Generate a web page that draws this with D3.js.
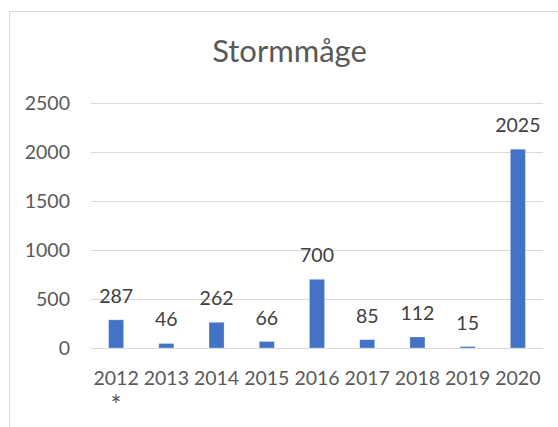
<!DOCTYPE html>
<html>
<head>
<meta charset="utf-8">
<script src="https://cdn.jsdelivr.net/npm/d3@7"></script>
<style>
  html, body { margin: 0; padding: 0; background: #fff; }
  svg { display: block; }
  text { font-family: Lato, "Open Sans", sans-serif; }
</style>
</head>
<body>
<svg id="chart" width="558" height="427"></svg>
<script>
// Stormmåge counts per year
const categories = ["2012 *", "2013", "2014", "2015", "2016", "2017", "2018", "2019", "2020"];
const values = [287, 46, 262, 66, 700, 85, 112, 15, 2025];
const yTicks = [0, 500, 1000, 1500, 2000, 2500];
const title = "Stormmåge";

const svg = d3.select("#chart");

// chart frame
svg.append("path")
  .attr("d", "M9.5,427 L9.5,11.5 L558,11.5")
  .attr("fill", "none")
  .attr("stroke", "#d9d9d9")
  .attr("stroke-width", 1);

const plot = { left: 91, right: 543, top: 102.6, bottom: 348 };

const x = d3.scaleBand()
  .domain(categories)
  .range([plot.left, plot.right])
  .paddingInner(0.7)
  .paddingOuter(0.35);

const y = d3.scaleLinear()
  .domain([0, 2500])
  .range([plot.bottom, plot.top]);

// title
svg.append("text")
  .attr("x", 289.5)
  .attr("y", 62)
  .attr("text-anchor", "middle")
  .attr("fill", "#595959")
  .attr("font-size", 31)
  .text(title);

// gridlines
svg.append("g")
  .selectAll("line")
  .data(yTicks)
  .join("line")
  .attr("x1", plot.left)
  .attr("x2", plot.right)
  .attr("y1", d => Math.round(y(d)) + 0.5)
  .attr("y2", d => Math.round(y(d)) + 0.5)
  .attr("stroke", "#d9d9d9")
  .attr("stroke-width", 1);

// y axis labels
svg.append("g")
  .selectAll("text")
  .data(yTicks)
  .join("text")
  .attr("x", 70)
  .attr("y", d => y(d) + 7)
  .attr("text-anchor", "end")
  .attr("fill", "#595959")
  .attr("font-size", 19.5)
  .text(d => d);

// bars
svg.append("g")
  .selectAll("rect")
  .data(values)
  .join("rect")
  .attr("x", (d, i) => x(categories[i]))
  .attr("width", x.bandwidth())
  .attr("y", d => y(d))
  .attr("height", d => y(0) - y(d))
  .attr("fill", "#4472c4")
  .attr("stroke", "#ffffff")
  .attr("stroke-opacity", 0.35)
  .attr("stroke-width", 0.8);

// value labels
svg.append("g")
  .selectAll("text")
  .data(values)
  .join("text")
  .attr("x", (d, i) => x(categories[i]) + x.bandwidth() / 2)
  .attr("y", d => y(d) - 17)
  .attr("text-anchor", "middle")
  .attr("fill", "#404040")
  .attr("font-size", 19.5)
  .text(d => d);

// category labels (wrapped on spaces)
const xl = svg.append("g")
  .selectAll("text")
  .data(categories)
  .join("text")
  .attr("x", d => x(d) + x.bandwidth() / 2)
  .attr("y", 385)
  .attr("text-anchor", "middle")
  .attr("fill", "#595959")
  .attr("font-size", 19.5);

xl.each(function (d) {
  const t = d3.select(this);
  const cx = x(d) + x.bandwidth() / 2;
  d.split(" ").forEach((part, k) => {
    const ts = t.append("tspan")
      .attr("x", cx)
      .attr("dy", k === 0 ? 0 : 30)
      .text(part);
    if (part === "*") ts.attr("font-size", 26);
  });
});
</script>
</body>
</html>
